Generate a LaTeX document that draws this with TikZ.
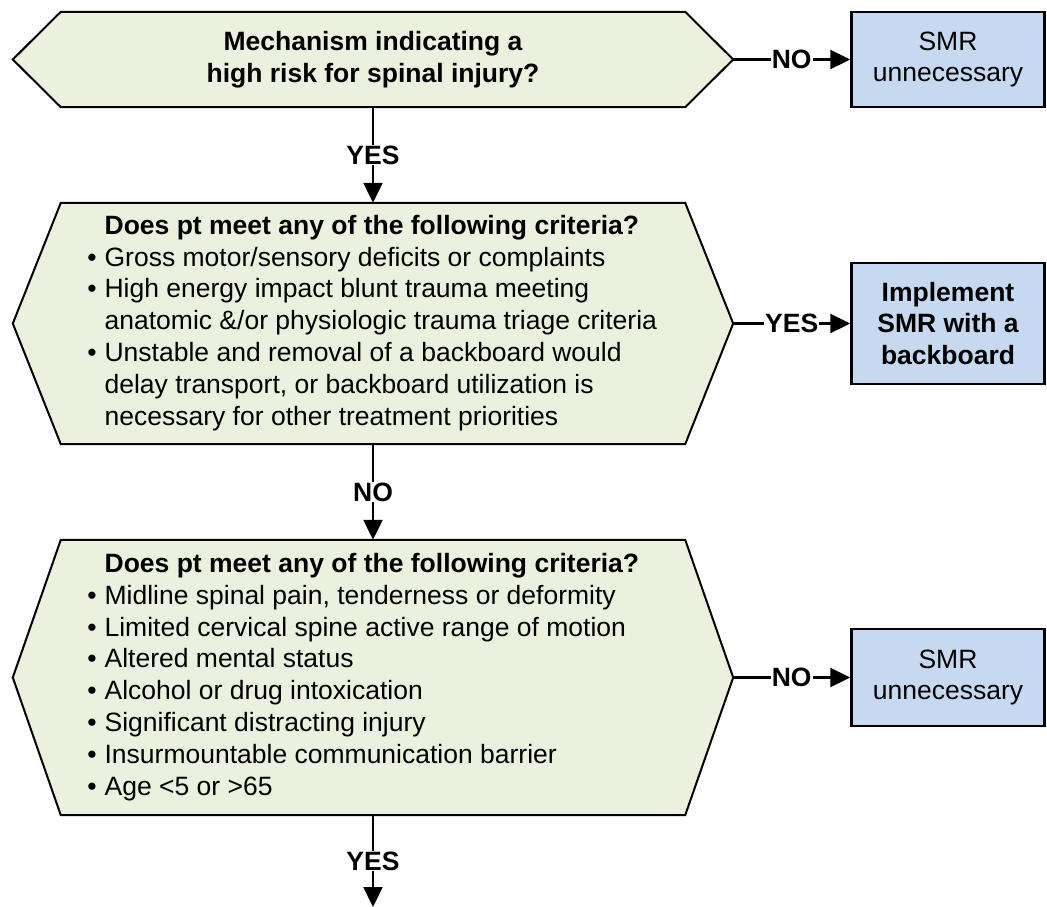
\documentclass[tikz,border=0pt]{standalone}
\usepackage{fontspec}
\setmainfont{Liberation Sans}
\usetikzlibrary{arrows.meta,backgrounds}

\definecolor{hexgreen}{RGB}{235,241,222}
\definecolor{boxblue}{RGB}{198,217,241}

\begin{document}
\begin{tikzpicture}[x=1pt, y=-1pt,
  txt/.style={font=\fontsize{26.5}{31.9}\selectfont},
  boldtxt/.style={font=\fontsize{26.5}{31.9}\selectfont\bfseries},
  hexnode/.style={txt, inner sep=0pt, minimum width=624pt},
  hexline/.style={draw=black, line width=2pt, fill=hexgreen},
  smrbox/.style={txt, draw=black, line width=2.5pt, fill=boxblue, minimum width=193pt, align=center, inner sep=0pt},
  flow/.style={line width=2.3pt, -{Triangle[length=20pt,width=19pt]}},
  answer/.style={boldtxt, fill=white, inner sep=1pt}]

\useasboundingbox (0,0) rectangle (1047,907);

\node [hexnode, boldtxt, minimum height=95pt, align=center] (mech) at (373,59.5)
  {Mechanism indicating a\\high risk for spinal injury?};

\node [hexnode, minimum height=241pt] (crit1) at (373,323.5) {%
\begin{tabular}{@{}r@{\hspace{8pt}}l@{}}
 & \makebox[554pt][l]{\bfseries Does pt meet any of the following criteria?}\\
\textbullet & Gross motor/sensory deficits or complaints\\
\textbullet & High energy impact blunt trauma meeting\\
 & anatomic \&/or physiologic trauma triage criteria\\
\textbullet & Unstable and removal of a backboard would\\
 & delay transport, or backboard utilization is\\
 & necessary for other treatment priorities
\end{tabular}};

\node [hexnode, minimum height=275pt] (crit2) at (373,677.5) {%
\begin{tabular}{@{}r@{\hspace{8pt}}l@{}}
 & \makebox[554pt][l]{\bfseries Does pt meet any of the following criteria?}\\
\textbullet & Midline spinal pain, tenderness or deformity\\
\textbullet & Limited cervical spine active range of motion\\
\textbullet & Altered mental status\\
\textbullet & Alcohol or drug intoxication\\
\textbullet & Significant distracting injury\\
\textbullet & Insurmountable communication barrier\\
\textbullet & Age <5 or >65
\end{tabular}};

\begin{scope}[on background layer]
\draw [hexline] (mech.north west) -- (mech.north east) -- ([xshift=48pt]mech.east) -- (mech.south east) -- (mech.south west) -- ([xshift=-48pt]mech.west) -- cycle;
\draw [hexline] (crit1.north west) -- (crit1.north east) -- ([xshift=48pt]crit1.east) -- (crit1.south east) -- (crit1.south west) -- ([xshift=-48pt]crit1.west) -- cycle;
\draw [hexline] (crit2.north west) -- (crit2.north east) -- ([xshift=48pt]crit2.east) -- (crit2.south east) -- (crit2.south west) -- ([xshift=-48pt]crit2.west) -- cycle;
\end{scope}

\node [smrbox, minimum height=95pt] (smr1) at (948,59.5) {SMR\\unnecessary};
\node [smrbox, boldtxt, minimum height=121pt] (board) at (948,323.5) {Implement\\SMR with a\\backboard};
\node [smrbox, minimum height=97pt] (smr2) at (948,677.5) {SMR\\unnecessary};

\coordinate (mechtip) at ([xshift=48pt]mech.east);
\coordinate (crit1tip) at ([xshift=48pt]crit1.east);
\coordinate (crit2tip) at ([xshift=48pt]crit2.east);
\coordinate (onward) at (373,907);

\draw [flow] (mechtip) -- node [answer] {NO} (smr1.west);
\draw [flow] (crit1tip) -- node [answer] {YES} (board.west);
\draw [flow] (crit2tip) -- node [answer] {NO} (smr2.west);

\draw [flow] (mech.south) -- node [answer] {YES} (crit1.north);
\draw [flow] (crit1.south) -- node [answer] {NO} (crit2.north);
\draw [flow] (crit2.south) -- node [answer] {YES} (onward);

\end{tikzpicture}
\end{document}
